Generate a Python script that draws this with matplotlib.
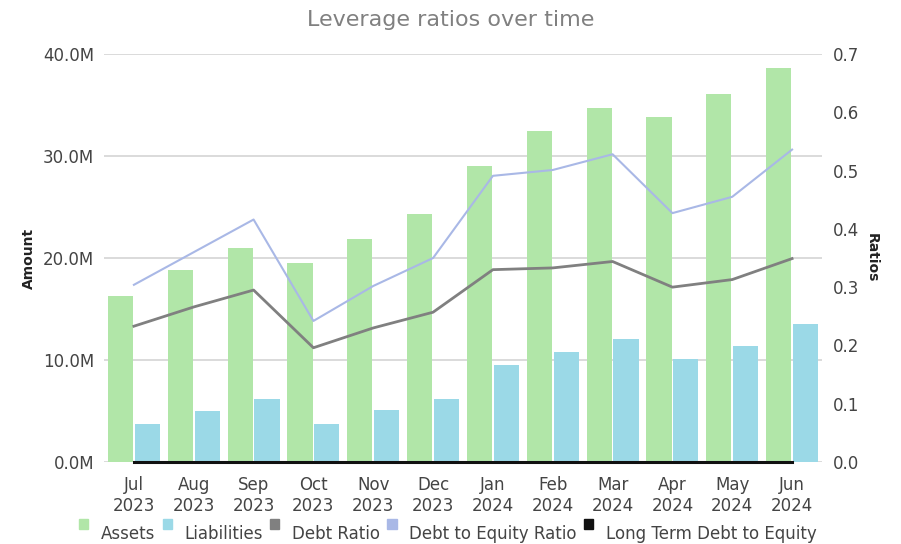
import numpy as np
import matplotlib
matplotlib.use('Agg')
import matplotlib.pyplot as plt
from matplotlib.ticker import FuncFormatter, MultipleLocator
from matplotlib.patches import Patch, Rectangle
from matplotlib.legend_handler import HandlerPatch

months = ['Jul\n2023', 'Aug\n2023', 'Sep\n2023', 'Oct\n2023', 'Nov\n2023', 'Dec\n2023',
          'Jan\n2024', 'Feb\n2024', 'Mar\n2024', 'Apr\n2024', 'May\n2024', 'Jun\n2024']
assets = [16.3, 18.8, 21.0, 19.5, 21.9, 24.3, 29.0, 32.5, 34.7, 33.8, 36.1, 38.6]
liabilities = [3.7, 5.0, 6.2, 3.7, 5.1, 6.2, 9.5, 10.8, 12.1, 10.1, 11.4, 13.5]
debt_ratio = [0.233, 0.266, 0.295, 0.196, 0.230, 0.257, 0.330, 0.333, 0.344, 0.300, 0.313, 0.349]
debt_to_equity = [0.304, 0.360, 0.416, 0.242, 0.302, 0.350, 0.491, 0.501, 0.528, 0.427, 0.455, 0.536]
lt_debt_to_equity = [0, 0, 0, 0, 0, 0, 0, 0, 0, 0, 0, 0]

c_assets = '#b1e6a8'
c_liab = '#9bd9e7'
c_debt = '#808080'
c_de = '#a9b8e6'
c_lt = '#111111'
txt = '#444444'

plt.rcParams['font.family'] = ['DejaVu Sans']

fig = plt.figure(figsize=(9.01, 5.44), dpi=100)
ax = fig.add_axes([104 / 901, 1 - 462 / 544, 718 / 901, 408 / 544])
ax2 = ax.twinx()

x = np.arange(len(months))
w = 0.42
ax.bar(x - 0.225, np.array(assets) * 1e6, width=w, color=c_assets, zorder=2)
ax.bar(x + 0.225, np.array(liabilities) * 1e6, width=w, color=c_liab, zorder=2)

ax2.plot(x, debt_ratio, color=c_debt, lw=2.0, zorder=3)
ax2.plot(x, debt_to_equity, color=c_de, lw=1.5, zorder=3)
ax2.plot(x, lt_debt_to_equity, color=c_lt, lw=2.2, zorder=4, clip_on=False)

ax.set_xlim(-0.5, len(months) - 0.5)
ax.set_ylim(0, 40e6)
ax2.set_ylim(0, 0.7)
ax.yaxis.set_major_locator(MultipleLocator(10e6))
ax.yaxis.set_major_formatter(FuncFormatter(lambda v, p: '%.1fM' % (v / 1e6)))
ax2.yaxis.set_major_locator(MultipleLocator(0.1))
ax2.yaxis.set_major_formatter(FuncFormatter(lambda v, p: '%.1f' % v))

ax.set_xticks(x)
ax.set_xticklabels(months)
ax.grid(axis='y', color='#d4d4d4', lw=1.2, zorder=0)
ax.set_axisbelow(True)

for a in (ax, ax2):
    for s in a.spines.values():
        s.set_visible(False)
    a.tick_params(labelsize=12, colors=txt, length=0)
ax.tick_params(axis='y', pad=7)
ax2.tick_params(axis='y', pad=8)
ax.tick_params(axis='x', pad=10)

ax.set_ylabel('Amount', fontsize=10, fontweight='bold', color='#222222', labelpad=5)
ax2.set_ylabel('Ratios', fontsize=10, fontweight='bold', color='#222222', rotation=270, labelpad=14)

fig.text(0.5, 0.963, 'Leverage ratios over time', ha='center', va='center',
         fontsize=16, color='#808080')


# legend squares sit a bit above the text, as in the original
def raised_square(legend, orig_handle, xdescent, ydescent, width, height, fontsize):
    return Rectangle((-xdescent, -ydescent + 6), width, height)


handles = [Patch(color=c_assets), Patch(color=c_liab), Patch(color=c_debt),
           Patch(color=c_de), Patch(color=c_lt)]
labels = ['Assets', 'Liabilities', 'Debt Ratio', 'Debt to Equity Ratio', 'Long Term Debt to Equity']
leg = fig.legend(handles, labels, loc='lower center', bbox_to_anchor=(0.497, -0.025), ncol=5,
                 frameon=False, fontsize=12, handlelength=0.55, handleheight=0.55,
                 handletextpad=0.75, columnspacing=0.45,
                 handler_map={Patch: HandlerPatch(patch_func=raised_square)})
for t in leg.get_texts():
    t.set_color(txt)

fig.savefig('out.png', dpi=100)
